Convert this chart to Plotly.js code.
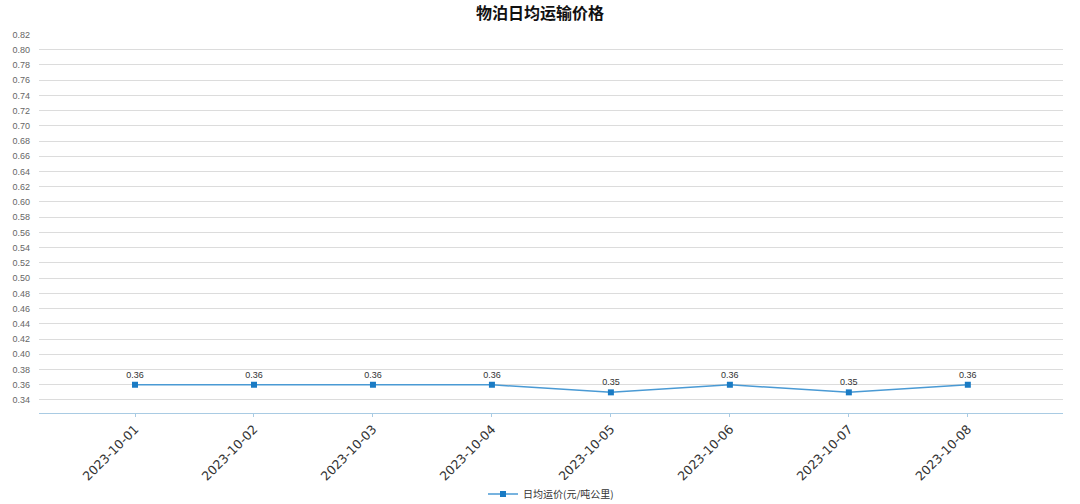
<!DOCTYPE html>
<html>
<head>
<meta charset="utf-8">
<script src="https://cdn.plot.ly/plotly-3.0.1.min.js"></script>
<style>html,body{margin:0;padding:0;background:#fff;}#chart{width:1080px;height:504px;}</style>
</head>
<body>
<div id="chart"></div>
<script>
var dates = ["2023-10-01","2023-10-02","2023-10-03","2023-10-04","2023-10-05","2023-10-06","2023-10-07","2023-10-08"];
var prices = [0.36,0.36,0.36,0.36,0.35,0.36,0.35,0.36];
var seriesName = "日均运价(元/吨公里)";
var chartTitle = "物泊日均运输价格";
var yTicks = [0.34,0.36,0.38,0.40,0.42,0.44,0.46,0.48,0.50,0.52,0.54,0.56,0.58,0.60,0.62,0.64,0.66,0.68,0.70,0.72,0.74,0.76,0.78,0.80,0.82];

var trace = {
  x: dates, y: prices, name: seriesName, type: "scatter", mode: "lines+markers+text",
  text: prices.map(function(v){return v.toFixed(2);}),
  textposition: "top center",
  textfont: {family: "Liberation Sans, Arial, sans-serif", size: 9, color: "#333"},
  line: {color: "#4a9ad4", width: 1.5},
  marker: {symbol: "square", size: 6, color: "#1a7bc4"},
  cliponaxis: false
};

var layout = {
  width: 1080, height: 504,
  margin: {l: 39, r: 17, t: 34, b: 91, autoexpand: false},
  paper_bgcolor: "#fff", plot_bgcolor: "#fff",
  title: {text: "<b>" + chartTitle + "</b>", x: 0.5, xanchor: "center", yref: "container", y: 0.974, yanchor: "middle",
          font: {family: "Noto Sans CJK SC, sans-serif", size: 16, color: "#111"}},
  showlegend: true,
  legend: {orientation: "h", x: 0.5, xanchor: "center", y: -0.214, yanchor: "middle",
           font: {family: "Noto Sans CJK SC, sans-serif", size: 10, color: "#333"}},
  xaxis: {
    type: "category", range: [-0.807, 7.8], showgrid: false, zeroline: false,
    showline: true, linecolor: "#a9cbe3", linewidth: 1, automargin: false,
    ticks: "outside", ticklen: 3, tickcolor: "#a9cbe3",
    tickangle: -45, tickfont: {family: "DejaVu Sans, sans-serif", size: 12.5, color: "#333"}
  },
  yaxis: {
    range: [0.3229, 0.8206], tickvals: yTicks, ticktext: yTicks.map(function(v){return v.toFixed(2);}),
    showgrid: true, gridcolor: "#dcdcdc", gridwidth: 1, zeroline: false, showline: false, automargin: false,
    ticks: "", ticklabelstandoff: 8,
    tickfont: {family: "Liberation Sans, Arial, sans-serif", size: 9, color: "#666"}
  }
};

Plotly.newPlot("chart", [trace], layout, {displayModeBar: false, responsive: false});
</script>
</body>
</html>
